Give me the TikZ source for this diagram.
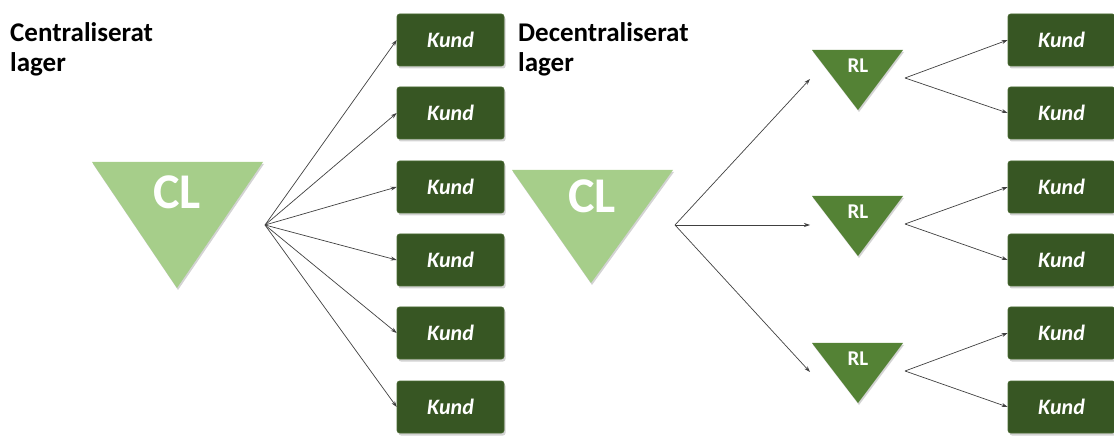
\documentclass[tikz,border=0pt]{standalone}
\usepackage{fontspec}
\setmainfont{Carlito}
\usetikzlibrary{arrows.meta,shadows}

\definecolor{kundgreen}{HTML}{375623}
\definecolor{kundedge}{HTML}{4A6B33}
\definecolor{clgreen}{HTML}{A6CE8A}
\definecolor{rlgreen}{HTML}{548235}

\tikzset{
  kund/.style={draw=kundedge, line width=0.6pt, fill=kundgreen, rounded corners=2.5pt,
    minimum width=107pt, minimum height=52pt, inner sep=0pt, text=white,
    font=\bfseries\itshape\fontsize{22}{22}\selectfont,
    drop shadow={shadow xshift=1.5pt, shadow yshift=-2.5pt, opacity=0.35}},
  tri/.style={drop shadow={shadow xshift=1pt, shadow yshift=-2pt, opacity=0.35}},
  conn/.style={draw=black!75, line width=0.7pt, -{Stealth[length=6pt,width=4pt]}},
  heading/.style={anchor=north west, align=left, inner sep=0pt,
    font=\bfseries\fontsize{27}{30}\selectfont},
  cltext/.style={text=white, font=\bfseries\fontsize{50}{50}\selectfont},
  rltext/.style={text=white, font=\bfseries\fontsize{21}{21}\selectfont}
}

\begin{document}
\begin{tikzpicture}[x=1pt,y=-1pt]
\useasboundingbox (0,0) rectangle (1114,438);

% headings
\node[heading] (h1) at (10,22) {Centraliserat\\lager};
\node[heading] (h2) at (518,22) {Decentraliserat\\lager};

% central warehouse (left)
\path[fill=clgreen, tri] (92,162) -- (263,162) -- (177,288) -- cycle;
\node[cltext] (cl1) at (177,192) {CL};
\coordinate (o1) at (265,225);

% customers of the central warehouse
\foreach \i/\y in {1/40,2/113,3/187,4/260,5/333,6/407}{
  \node[kund] (k\i) at (450.5,\y) {Kund};
  \draw[conn] (o1) -- (k\i.west);
}

% decentralised: central warehouse feeding regional warehouses
\path[fill=clgreen, tri] (512,170) -- (673,170) -- (591,283) -- cycle;
\node[cltext] (cl2) at (592,196) {CL};
\coordinate (o2) at (675,225);

\foreach \j/\t/\ya/\yb in {1/50/40/113, 2/196/187/260, 3/343/333/407}{
  \path[fill=rlgreen, tri] (812,\t) -- (903,\t) -- (858,\t+60) -- cycle;
  \node[rltext] (rl\j) at (858,\t+16) {RL};
  \coordinate (e\j) at (810,\t+29);
  \coordinate (r\j) at (905,\t+28);
  \draw[conn] (o2) -- (e\j);
  \node[kund] (ka\j) at (1061.5,\ya) {Kund};
  \node[kund] (kb\j) at (1061.5,\yb) {Kund};
  \draw[conn] (r\j) -- (ka\j.west);
  \draw[conn] (r\j) -- (kb\j.west);
}
\end{tikzpicture}
\end{document}
